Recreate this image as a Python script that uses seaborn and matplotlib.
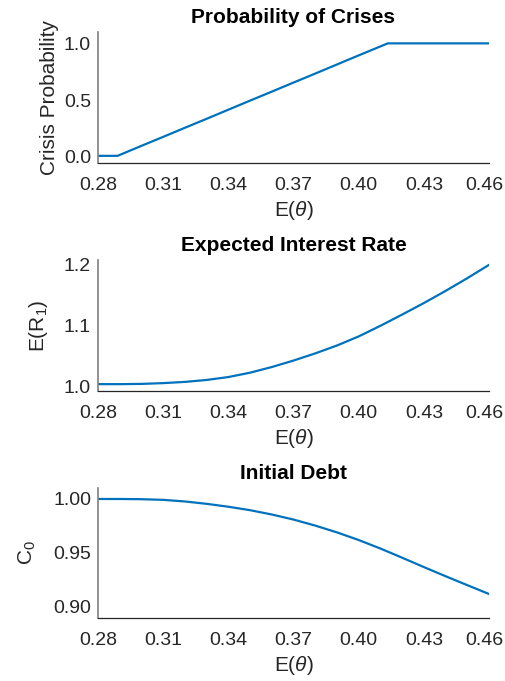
import matplotlib
matplotlib.use("Agg")
import matplotlib.pyplot as plt
import matplotlib.transforms as mtransforms
import seaborn as sns
import pandas as pd

# Expected fundamental E(theta) grid
theta = [0.28, 0.29, 0.30, 0.31, 0.32, 0.33, 0.34, 0.35, 0.36, 0.37,
         0.38, 0.39, 0.40, 0.41, 0.42, 0.43, 0.44, 0.45, 0.46]

# Crisis probability (with its two kinks)
theta_crisis = [0.28, 0.289, 0.30, 0.31, 0.32, 0.33, 0.34, 0.35, 0.36, 0.37,
                0.38, 0.39, 0.40, 0.41, 0.4134, 0.42, 0.43, 0.44, 0.45, 0.46]
crisis_prob = [0.01, 0.01, 0.098, 0.177, 0.257, 0.336, 0.416, 0.496, 0.575, 0.655,
               0.734, 0.814, 0.894, 0.973, 1.0, 1.0, 1.0, 1.0, 1.0, 1.0]

# Expected gross interest rate E(R_1)
interest_rate = [1.0033, 1.0033, 1.0037, 1.0050, 1.0070, 1.0102, 1.0150, 1.0222, 1.0315, 1.0422,
                 1.0540, 1.0670, 1.0820, 1.0995, 1.1180, 1.1370, 1.1570, 1.1780, 1.2000]

# Initial debt C_0
initial_debt = [1.000, 1.000, 0.9998, 0.9992, 0.9977, 0.9955, 0.9928, 0.9896, 0.9856, 0.9809,
                0.9753, 0.9690, 0.9619, 0.9540, 0.9455, 0.9368, 0.9283, 0.9200, 0.9118]

xticks = [0.28, 0.31, 0.34, 0.37, 0.40, 0.43, 0.46]
xticklabels = ["0.28", "0.31", "0.34", "0.37", "0.40", "0.43", "0.46"]

sns.set_style("white")
plt.rcParams["font.family"] = ["Liberation Sans", "DejaVu Sans"]
plt.rcParams["mathtext.fontset"] = "custom"
plt.rcParams["mathtext.rm"] = "Liberation Sans"
plt.rcParams["mathtext.it"] = "Liberation Sans:italic"

W, H = 506, 681
fig = plt.figure(figsize=(W / 100, H / 100), dpi=100)

line_color = "#0072BD"
text_color = "#262626"


def make_axes(top, bottom):
    left, right = 98, 489
    return fig.add_axes([left / W, 1 - bottom / H, (right - left) / W, (bottom - top) / H])


panels = [
    dict(top=32, bottom=163, x=theta_crisis, y=crisis_prob, ylim=(-0.053, 1.10),
         yticks=[0.0, 0.5, 1.0], yfmt="{:.1f}", ylabel="Crisis Probability",
         ylabelpad=3.5, title="Probability of Crises"),
    dict(top=260, bottom=391, x=theta, y=interest_rate, ylim=(0.992, 1.208),
         yticks=[1.0, 1.1, 1.2], yfmt="{:.1f}", ylabel=r"E(R$_{1}$)",
         ylabelpad=10, title="Expected Interest Rate"),
    dict(top=488, bottom=618, x=theta, y=initial_debt, ylim=(0.8895, 1.0102),
         yticks=[0.90, 0.95, 1.00], yfmt="{:.2f}", ylabel=r"C$_{0}$",
         ylabelpad=11, title="Initial Debt"),
]

# nudge the last x tick label inward so it stays inside the figure
shift_left = mtransforms.ScaledTranslation(-5 / 100, 0, fig.dpi_scale_trans)

for p in panels:
    ax = make_axes(p["top"], p["bottom"])
    df = pd.DataFrame({"theta": p["x"], "value": p["y"]})
    sns.lineplot(data=df, x="theta", y="value", ax=ax, color=line_color,
                 linewidth=1.6, sort=False)
    ax.set_xlim(0.28, 0.46)
    ax.set_ylim(*p["ylim"])
    ax.set_xticks(xticks)
    ax.set_xticklabels(xticklabels)
    ax.set_yticks(p["yticks"])
    ax.set_yticklabels([p["yfmt"].format(v) for v in p["yticks"]])
    ax.tick_params(direction="in", length=4, width=0.8, colors=text_color,
                   labelsize=14)
    ax.tick_params(axis="x", pad=10)
    ax.tick_params(axis="y", pad=5)
    last = ax.get_xticklabels()[-1]
    last.set_transform(last.get_transform() + shift_left)
    for side in ("top", "right"):
        ax.spines[side].set_visible(False)
    ax.spines["bottom"].set_color(text_color)
    ax.spines["left"].set_color("#7f7f7f")
    ax.spines["bottom"].set_linewidth(0.9)
    ax.spines["left"].set_linewidth(1.2)
    ax.set_xlabel(r"E($\theta$)", fontsize=15, color=text_color, labelpad=4)
    ax.set_ylabel(p["ylabel"], fontsize=15, color=text_color, labelpad=p["ylabelpad"])
    ax.set_title(p["title"], fontsize=15, fontweight="bold", color="black", pad=6.5)

fig.savefig("out.png", dpi=100, facecolor="white")
